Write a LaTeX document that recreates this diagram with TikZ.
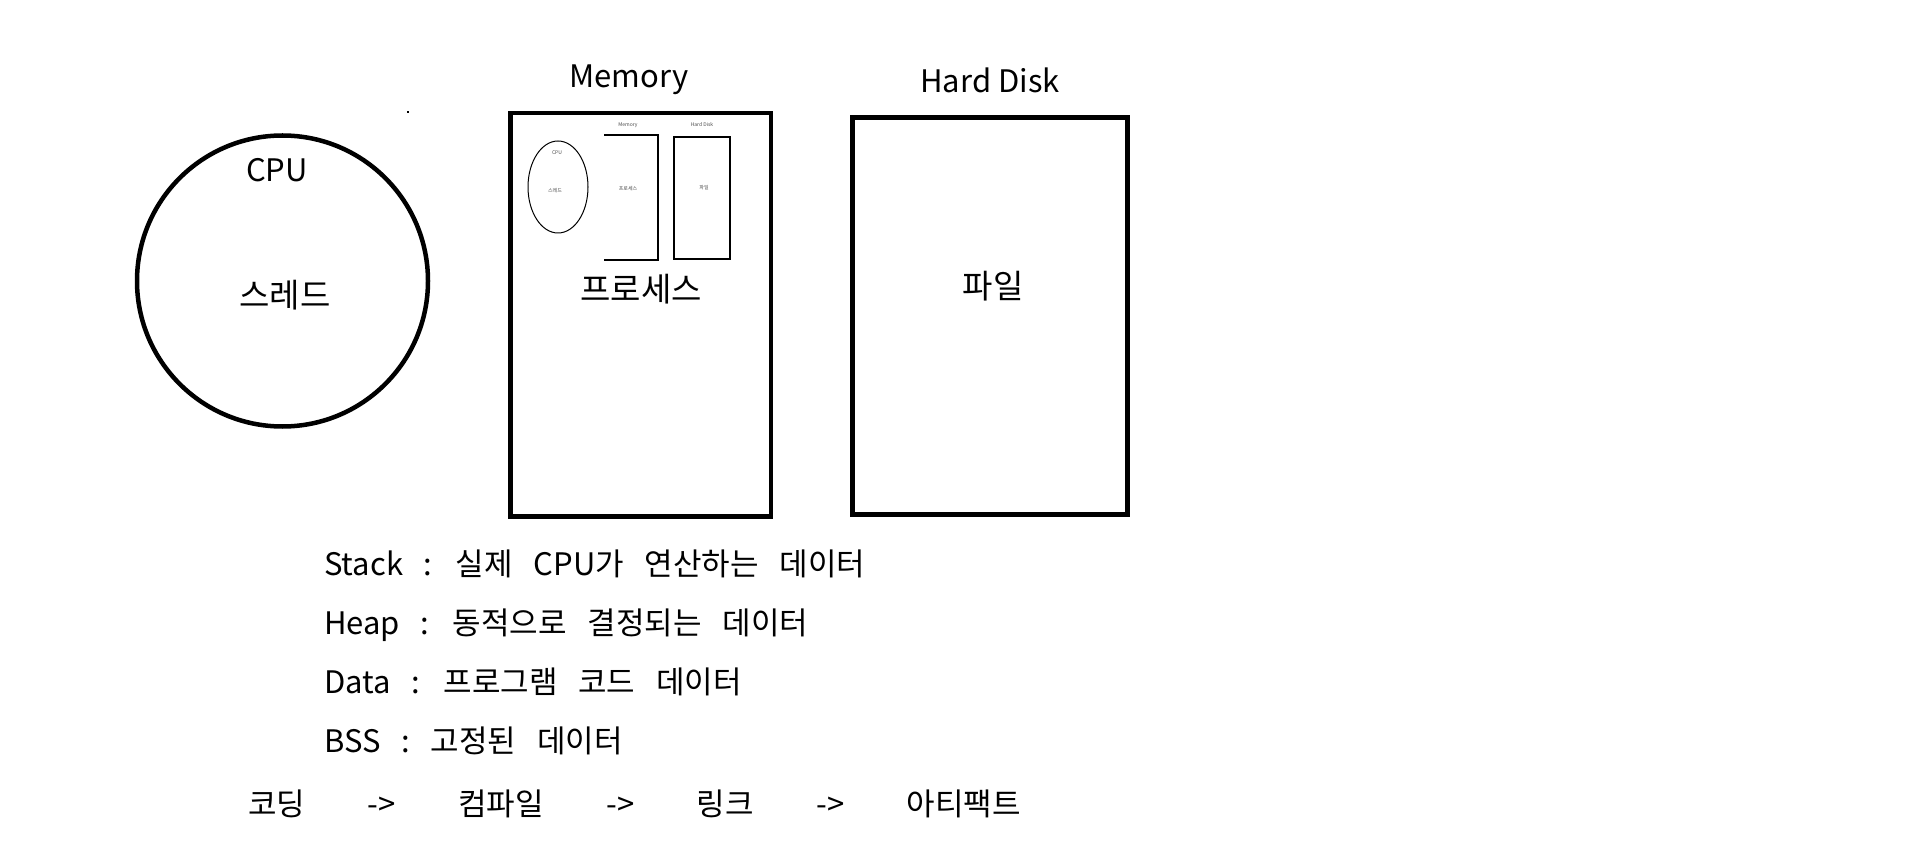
\documentclass[tikz,border=0pt]{standalone}
\usepackage{fontspec}
\setmainfont{Noto Sans CJK KR}
\newfontfamily\widefont[WordSpace=2.2]{Noto Sans CJK KR}
\newfontfamily\arrowfont[WordSpace=3.0]{Noto Sans CJK KR}
\usetikzlibrary{shapes.geometric}
\tikzset{
  big/.style={draw, line width=4.5pt, inner sep=0pt},
  small/.style={draw, line width=1.2pt, inner sep=0pt},
  lbl/.style={font=\fontsize{31}{36}\selectfont, inner sep=0pt, anchor=base},
  klbl/.style={font=\fontsize{33}{38}\selectfont, inner sep=0pt, anchor=base},
  tiny/.style={font=\fontsize{5}{6}\selectfont, inner sep=0pt, anchor=center, text=black!70},
  line/.style={font=\widefont\fontsize{31}{36}\selectfont, inner sep=0pt, anchor=base west},
  aline/.style={font=\arrowfont\fontsize{31}{36}\selectfont, inner sep=0pt, anchor=base west},
}
\begin{document}
\begin{tikzpicture}[x=1pt,y=-1pt]
\useasboundingbox[fill=white] (0,0) rectangle (1908,866);
% CPU circle
\node[big, circle, minimum size=291pt] (cpu) at (282.5,281) {};
\node[lbl] (cpul) at (277,182) {CPU};
\node[klbl] (thr) at (285,308) {스레드};
% Memory box
\node[big, rectangle, minimum width=260.5pt, minimum height=403.5pt] (mem) at (640.75,314.75) {};
\node[lbl] (meml) at (629,88) {Memory};
\node[klbl] (proc) at (641,302) {프로세스};
% Hard disk box
\node[big, rectangle, minimum width=275pt, minimum height=397pt] (hd) at (990,316) {};
\node[lbl] (hdl) at (990,93) {Hard Disk};
\node[klbl] (file) at (993,299) {파일};
% stray dot
\fill (407,111) rectangle (409,113);
% nested thumbnail
\node[small, ellipse, minimum width=60pt, minimum height=92pt, line width=1pt] (sc) at (558,187) {};
\node[tiny] (scl) at (557,153) {CPU};
\node[tiny] (sth) at (555,191) {스레드};
\coordinate (m1) at (604,135);
\coordinate (m2) at (658,135);
\coordinate (m3) at (658,260);
\coordinate (m4) at (604,260);
\draw[line width=1.5pt] (m1) -- (m2) -- (m3) -- (m4);
\node[tiny] (sml) at (628,125) {Memory};
\node[tiny] (spr) at (628,189) {프로세스};
\node[small, rectangle, minimum width=56pt, minimum height=122pt, line width=1.5pt] (shd) at (702,198) {};
\node[tiny] (shdl) at (702,125) {Hard Disk};
\node[tiny] (sfl) at (704,188) {파일};
% text lines
\node[line] (t1) at (324,575) {Stack : 실제 CPU가 연산하는 데이터};
\node[line] (t2) at (324,634) {Heap : 동적으로 결정되는 데이터};
\node[line] (t3) at (324,693) {Data : 프로그램 코드 데이터};
\node[line] (t4) at (324,752) {BSS : 고정된 데이터};
\node[aline] (t5) at (248,815) {코딩 -> 컴파일 -> 링크 -> 아티팩트};
\end{tikzpicture}
\end{document}
